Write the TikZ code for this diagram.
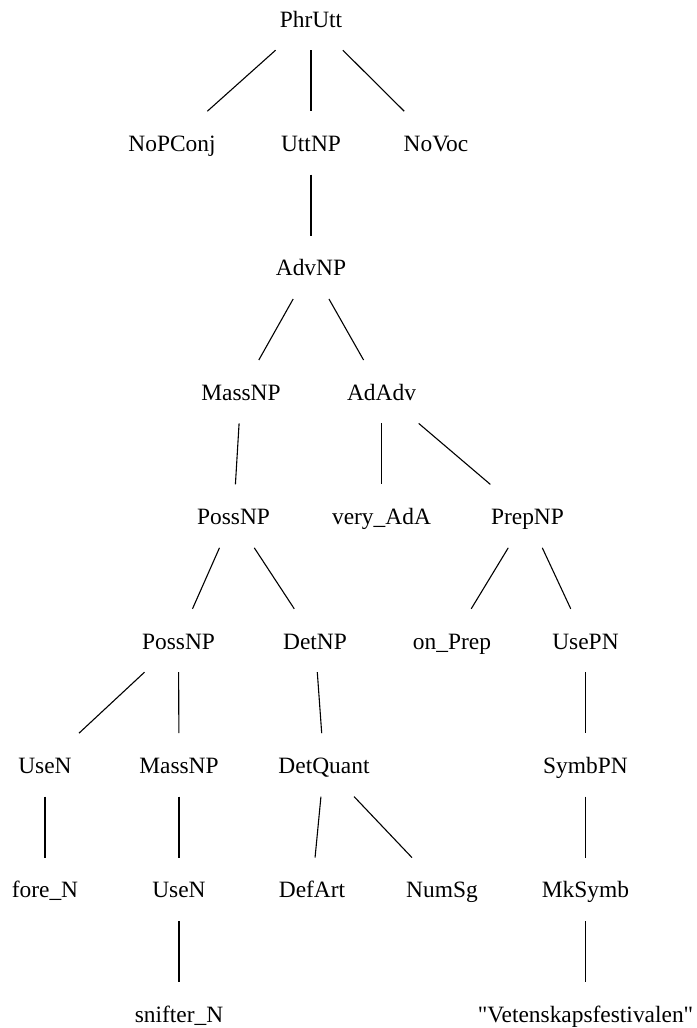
\documentclass[tikz,border=0pt]{standalone}
\usepackage{fontspec}
\setmainfont{Liberation Serif}[Ligatures=TeXOff]
\begin{document}
\begin{tikzpicture}[x=1bp,y=-1bp,
  lbl/.style={anchor=base,inner sep=0pt,text height=40bp,text depth=23bp,
              minimum width=80bp,font=\fontsize{23.5}{28}\selectfont},
  edge/.style={line width=1.1bp,black}]
\useasboundingbox (0,0) rectangle (697,1028);
% row baselines: 27 + 124.4 k
\def\ra{27}\def\rb{151.4}\def\rc{275.8}\def\rd{400.2}\def\re{524.6}
\def\rf{649}\def\rg{773.4}\def\rh{897.8}\def\ri{1022.2}
% nodes
\node[lbl] (phrutt)  at (311,\ra) {PhrUtt};
\node[lbl] (nopconj) at (172,\rb) {NoPConj};
\node[lbl] (uttnp)   at (311,\rb) {UttNP};
\node[lbl] (novoc)   at (436,\rb) {NoVoc};
\node[lbl] (advnp)   at (311,\rc) {AdvNP};
\node[lbl] (massa)   at (241,\rd) {MassNP};
\node[lbl] (adadv)   at (381.5,\rd) {AdAdv};
\node[lbl] (possa)   at (233.5,\re) {PossNP};
\node[lbl] (very)    at (381.5,\re) {very\_AdA};
\node[lbl] (prepnp)  at (527.5,\re) {PrepNP};
\node[lbl] (possb)   at (178.5,\rf) {PossNP};
\node[lbl] (detnp)   at (315,\rf) {DetNP};
\node[lbl] (onprep)  at (452,\rf) {on\_Prep};
\node[lbl] (usepn)   at (585.5,\rf) {UsePN};
\node[lbl] (usena)   at (45,\rg) {UseN};
\node[lbl] (massb)   at (179,\rg) {MassNP};
\node[lbl] (detq)    at (324,\rg) {DetQuant};
\node[lbl] (symbpn)  at (585.5,\rg) {SymbPN};
\node[lbl] (foren)   at (45,\rh) {fore\_N};
\node[lbl] (usenb)   at (179,\rh) {UseN};
\node[lbl] (defart)  at (312,\rh) {DefArt};
\node[lbl] (numsg)   at (442,\rh) {NumSg};
\node[lbl] (mksymb)  at (585.5,\rh) {MkSymb};
\node[lbl] (snifter) at (179,\ri) {snifter\_N};
\node[lbl] (veten)   at (585.5,\ri) {"Vetenskapsfestivalen"};
% edges
\draw[edge] (phrutt) -- (nopconj);
\draw[edge] (phrutt) -- (uttnp);
\draw[edge] (phrutt) -- (novoc);
\draw[edge] (uttnp) -- (advnp);
\draw[edge] (advnp) -- (massa);
\draw[edge] (advnp) -- (adadv);
\draw[edge] (massa) -- (possa);
\draw[edge] (adadv) -- (very);
\draw[edge] (adadv) -- (prepnp);
\draw[edge] (possa) -- (possb);
\draw[edge] (possa) -- (detnp);
\draw[edge] (prepnp) -- (onprep);
\draw[edge] (prepnp) -- (usepn);
\draw[edge] (possb) -- (usena);
\draw[edge] (possb) -- (massb);
\draw[edge] (detnp) -- (detq);
\draw[edge] (usepn) -- (symbpn);
\draw[edge] (usena) -- (foren);
\draw[edge] (massb) -- (usenb);
\draw[edge] (detq) -- (defart);
\draw[edge] (detq) -- (numsg);
\draw[edge] (symbpn) -- (mksymb);
\draw[edge] (usenb) -- (snifter);
\draw[edge] (mksymb) -- (veten);
\end{tikzpicture}
\end{document}
